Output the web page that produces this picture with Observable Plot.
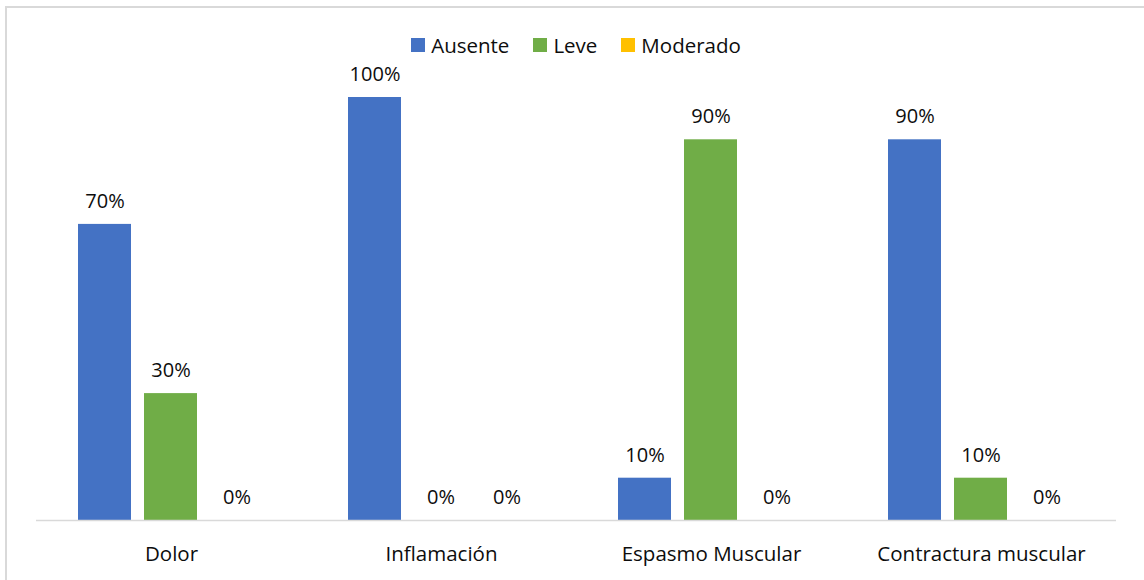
<!DOCTYPE html>
<html>
<head>
<meta charset="utf-8">
<script src="https://cdn.jsdelivr.net/npm/d3@7"></script>
<script src="https://cdn.jsdelivr.net/npm/@observablehq/plot@0.6"></script>
<style>
  html, body { margin: 0; padding: 0; background: #fff; }
  #wrap { position: relative; width: 1144px; height: 580px; overflow: hidden; font-family: "Open Sans", Lato, sans-serif; color: #0d0d0d; }
  #frame { position: absolute; left: 5px; top: 6px; width: 1200px; height: 700px; border-left: 2px solid #d9d9d9; border-top: 2px solid #d9d9d9; box-sizing: border-box; pointer-events: none; }
  #legend { height: 60px; display: flex; justify-content: center; align-items: flex-start; padding-left: 8px; box-sizing: border-box; }
  #legend .item { display: flex; align-items: center; margin: 0 12px; margin-top: 32px; font-size: 20.5px; line-height: 26px; }
  #legend .sw { width: 14px; height: 14px; margin-right: 6px; }
  #chart svg { display: block; }
</style>
</head>
<body>
<div id="wrap">
  <div id="frame"></div>
  <div id="legend"></div>
  <div id="chart"></div>
</div>
<script>
// Symptom categories and the share of patients at each severity level
const categories = ["Dolor", "Inflamación", "Espasmo Muscular", "Contractura muscular"];
const series = ["Ausente", "Leve", "Moderado"];
const ausente = [0.70, 1.00, 0.10, 0.90];
const leve = [0.30, 0.00, 0.90, 0.10];
const moderado = [0.00, 0.00, 0.00, 0.00];
const colors = ["#4472C4", "#70AD47", "#FFC000"];

const valuesBySeries = [ausente, leve, moderado];
const rows = [];
categories.forEach((cat, i) => {
  series.forEach((s, j) => {
    rows.push({categoria: cat, nivel: s, valor: valuesBySeries[j][i]});
  });
});

// Legend
const legend = document.getElementById("legend");
series.forEach((s, j) => {
  const item = document.createElement("div");
  item.className = "item";
  const sw = document.createElement("span");
  sw.className = "sw";
  sw.style.background = colors[j];
  const label = document.createElement("span");
  label.textContent = s;
  item.append(sw, label);
  legend.append(item);
});

const fmt = d3.format(".0%");

const chart = Plot.plot({
  width: 1144,
  height: 520,
  marginTop: 37,
  marginBottom: 60,
  marginLeft: 35,
  marginRight: 27,
  style: {fontFamily: "'Open Sans', Lato, sans-serif", fontSize: "20px", color: "#0d0d0d", background: "transparent"},
  fx: {domain: categories, padding: 0, label: null},
  x: {domain: series, paddingInner: 0.194, paddingOuter: 0.616, axis: null},
  y: {domain: [0, 1], axis: null},
  color: {domain: series, range: colors},
  marks: [
    Plot.barY(rows, {fx: "categoria", x: "nivel", y: "valor", fill: "nivel"}),
    Plot.text(rows, {fx: "categoria", x: "nivel", y: "valor", text: d => fmt(d.valor), dy: -23, fontSize: 20, fill: "#0d0d0d"}),
    Plot.ruleY([0], {stroke: "#d9d9d9", strokeWidth: 1.5}),
    Plot.axisFx({anchor: "bottom", tickSize: 0, tickPadding: 26, fontSize: 20.5, label: null, fill: "#0d0d0d"})
  ]
});
document.getElementById("chart").append(chart);
</script>
</body>
</html>
